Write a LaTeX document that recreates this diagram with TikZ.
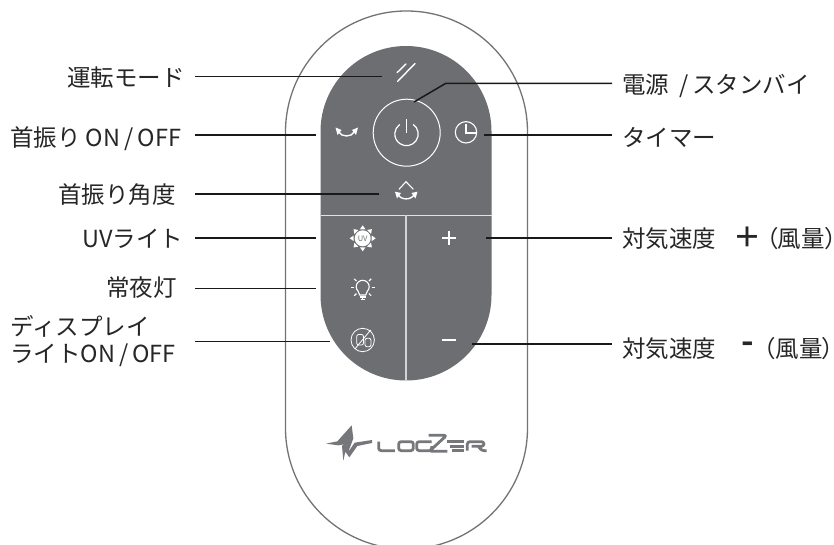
\documentclass[tikz,border=0pt]{standalone}
\usepackage{fontspec}
\setmainfont{Noto Sans CJK JP}[BoldFont={Noto Sans CJK JP Bold}]
\newfontfamily\paltfont{Noto Sans CJK JP}[RawFeature=+palt]
\usetikzlibrary{arrows.meta}
\definecolor{panel}{RGB}{109,110,113}
\definecolor{shell}{RGB}{115,115,118}
\definecolor{logo}{RGB}{118,119,122}
\tikzset{
  lbl/.style={inner sep=0pt,anchor=base west,font=\fontsize{23.5}{27}\selectfont,text=black!85},
  lead/.style={draw=black!90,line width=1.5pt},
  ic/.style={draw=white,line width=1pt,fill=none},
  icf/.style={fill=white,draw=none},
  logostroke/.style={draw=logo,line width=2.8pt,line join=round,rounded corners=2.5pt}
}
\begin{document}
\begin{tikzpicture}[x=1pt,y=-1pt]
\useasboundingbox (0,0) rectangle (834,545);
\fill[white] (0,0) rectangle (834,545);
% body
\begin{scope}
\clip (0,0) rectangle (834,545);
\draw[shell,line width=1.3pt] (285.5,132) arc[start angle=180,end angle=360,radius=121] -- (527.5,428) arc[start angle=0,end angle=180,radius=121] -- cycle;
\end{scope}
% panel
\fill[panel] (320.5,131.5) arc[start angle=180,end angle=360,radius=85.5] -- (491.5,295) arc[start angle=0,end angle=180,radius=85.5] -- cycle;
\draw[white!80!panel,line width=1pt] (320.5,215.5) -- (491.5,215.5);
\draw[white!70!panel,line width=1.1pt] (406,215.5) -- (406,380.5);
% mode icon
\draw[ic,line width=1.4pt,line cap=round] (406,64) -- (397,72.7);
\draw[ic,line width=1.4pt,line cap=round] (415,63.5) -- (397.5,81.5);
% power
\draw[ic] (406.7,132.7) circle[radius=33.5];
\draw[ic,line width=1.2pt] (413.2,124.4) arc[start angle=305,end angle=595,radius=11.7];
\draw[ic,line width=1.2pt] (406.5,119.3) -- (406.5,133.3);
% swing
\draw[ic,line width=1.4pt] (338.5,131.5) .. controls (341,137.5) and (352,137.5) .. (354.5,131.5);
\fill[icf] (335.5,127.5) -- (341.5,130) -- (337.5,135) -- cycle;
\fill[icf] (358,127.5) -- (352,130) -- (356,135) -- cycle;
% clock
\draw[ic,line width=1.1pt] (466,132.3) circle[radius=10.7];
\draw[ic,line width=1.1pt] (466,124) -- (466,133) -- (476,133);
% angle
\draw[ic,line width=1.1pt] (399,189.3) -- (406,181.7) -- (413.3,189.3);
\draw[ic,line width=1.4pt] (398,194) .. controls (400,200.5) and (412,200.5) .. (414.5,194);
\fill[icf] (395,191.7) -- (401,193) -- (397,198.5) -- cycle;
\fill[icf] (417.5,191.7) -- (411.5,193) -- (415.5,198.5) -- cycle;
% UV
\fill[icf] (362.7,238.3) circle[radius=8];
\node[inner sep=0pt,text=panel,font=\fontsize{7.5}{7.5}\selectfont] (uvmark) at (362.7,238.3) {UV};
\foreach \a in {0,45,...,315}{
  \fill[icf,shift={(362.7,238.3)},rotate=\a] (9,-2.8) -- (13,0) -- (9,2.8) -- cycle;
}
% bulb
\draw[ic,line width=1.1pt] (359.7,295) .. controls (359.7,291) and (356.2,291) .. (356.2,286.8) arc[start angle=180,end angle=360,radius=6.5] .. controls (369.2,291) and (365.7,291) .. (365.7,295) -- cycle;
\draw[ic,line width=1.1pt] (360,297) -- (365.5,297) (360.5,299.5) -- (365,299.5);
\foreach \a in {0,45,135,180,225,270,315}{
  \draw[ic,line width=1.1pt,shift={(362.7,287.3)},rotate=\a] (8.8,0) -- (12,0);
}
% display
\draw[ic,line width=0.8pt] (362.7,340) circle[radius=11.7];
\draw[ic,line width=0.8pt] (370.7,330) -- (355,348.8);
\draw[ic,line width=0.8pt,rounded corners=2pt] (356.7,334.5) rectangle (363.5,345);
\draw[ic,line width=0.8pt,rounded corners=2pt] (365,338.3) rectangle (371,346.7);
% plus minus
\draw[ic,line width=1.8pt] (442,238.3) -- (456,238.3) (449,231.3) -- (449,245.3);
\draw[ic,line width=2.2pt] (441.7,340) -- (456,340);
% labels
\node[lbl] (mode) at (67,86.5) {運転モード};
\node[lbl] (swing) at (10,146.5) {首振り ON\hspace{4pt}/\hspace{4pt}OFF};
\node[lbl] (angle) at (58,203.5) {首振り角度};
\node[lbl] (uv) at (82,247.5) {UVライト};
\node[lbl] (night) at (106,296.5) {常夜灯};
\node[lbl] (disp1) at (10,335.5) {ディスプレイ};
\node[lbl] (disp2) at (10,362.5) {ライトON\hspace{4pt}/\hspace{4pt}OFF};
\node[lbl] (power) at (622,93.5) {電源\hspace{10pt}/\hspace{4pt}スタンバイ};
\node[lbl] (timer) at (622,146.5) {タイマー};
\node[lbl] (fanplus) at (622,247.5) {対気速度\hspace{17pt}{\fontsize{28}{28}\selectfont\bfseries ＋}\hspace{5pt}{\paltfont （風量）}};
\node[lbl] (fanminus) at (622,357.5) {対気速度\hspace{25pt}\raisebox{4pt}{\fontsize{34}{34}\selectfont\bfseries -}\hspace{10pt}{\paltfont （風量）}};
% connector ends
\coordinate (a1) at (195,76.5); \coordinate (b1) at (381.5,76.5);
\coordinate (a2) at (195,135);  \coordinate (b2) at (316,135);
\coordinate (a3) at (195,194);  \coordinate (b3) at (379,194);
\coordinate (a4) at (195,237.8); \coordinate (b4) at (316,237.8);
\coordinate (a5) at (195,288.3); \coordinate (b5) at (316,288.3);
\coordinate (a6) at (195,341.7); \coordinate (b6) at (330,341.7);
\coordinate (c1) at (612,83.5); \coordinate (k1) at (445.5,83.5); \coordinate (d1) at (414,102);
\coordinate (c2) at (612,135); \coordinate (d2) at (484,135);
\coordinate (c3) at (612,237.8); \coordinate (d3) at (486,237.8);
\coordinate (c4) at (612,344); \coordinate (d4) at (472,344);
\draw[lead] (a1) -- (b1);
\draw[lead] (a2) -- (b2);
\draw[lead] (a3) -- (b3);
\draw[lead] (a4) -- (b4);
\draw[lead] (a5) -- (b5);
\draw[lead] (a6) -- (b6);
\draw[lead] (c1) -- (k1) -- (d1);
\draw[lead] (c2) -- (d2);
\draw[lead] (c3) -- (d3);
\draw[lead] (c4) -- (d4);
% logo
\begin{scope}[shift={(310,410)},x=0.3333pt,y=-0.3333pt]
\fill[logo] (48,101) -- (82,94) -- (125,46) -- (130,85) -- (114,128) -- (108,102) -- (85,106) -- cycle;
\fill[logo] (100,152) -- (96,108) -- (106,96) -- (116,124) -- (134,98) -- (186,90) -- (186,99) -- (142,108) -- (118,142) -- (106,125) -- cycle;
\draw[logostroke] (206,95) -- (206,122) -- (255,122);
\draw[logostroke] (266,95) rectangle (310,122);
\draw[logostroke] (365,95) -- (320,95) -- (320,122) -- (365,122) -- (365,108);
\draw[logostroke] (356,76) -- (410,76) -- (358,124) -- (412,124);
\draw[logostroke] (462,95) -- (412,95) (420,109) -- (462,109) (425,122) -- (462,122);
\draw[logostroke] (472,122) -- (472,95) -- (522,95) -- (522,109) -- (485,109) (505,109) -- (515,122) -- (530,122);
\end{scope}
\end{tikzpicture}
\end{document}
